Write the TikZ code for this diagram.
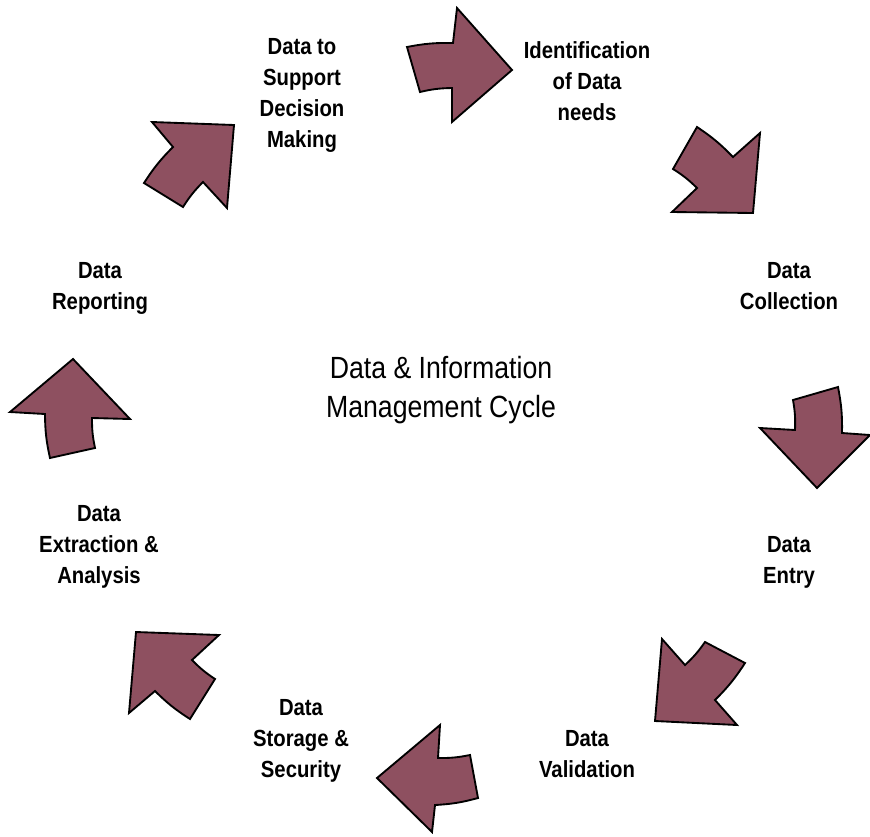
\documentclass[tikz,border=0pt]{standalone}
\usepackage{fontspec}
\setmainfont{Liberation Sans}[FakeStretch=0.87]
\definecolor{arrowfill}{RGB}{142,80,96}
\tikzset{
  cyclearrow/.style={draw=black, line width=1.4pt, fill=arrowfill, line join=miter},
  steplabel/.style={align=center, inner sep=0pt, font=\fontsize{17.5}{23.25}\selectfont\bfseries},
  titlelabel/.style={align=center, inner sep=0pt, font=\fontsize{23}{29.25}\selectfont}
}
\begin{document}
\begin{tikzpicture}[x=0.75pt, y=-0.75pt]
\useasboundingbox (0,0) rectangle (870,836);

% block arrows around the cycle (outer edge, head, inner edge)
\draw[cyclearrow] (407,47) to[bend left=6] (453,43) -- (457,8) -- (512,70) -- (452,122) -- (452,88) to[bend right=6] (420,92) -- cycle;
\draw[cyclearrow] (697,127) to[bend left=6] (733,157) -- (760,133) -- (753,213) -- (672,212) -- (697,188) to[bend right=6] (673,169) -- cycle;
\draw[cyclearrow] (838,387) to[bend left=6] (842,433) -- (870,435) -- (817,488) -- (760,428) -- (795,430) to[bend right=6] (793,400) -- cycle;
\draw[cyclearrow] (745,663) to[bend left=6] (715,700) -- (737,725) -- (655,721) -- (662,639) -- (685,665) to[bend right=6] (705,642) -- cycle;
\draw[cyclearrow] (478,798) to[bend left=6] (435,805) -- (432,832) -- (377,778) -- (440,725) -- (438,758) to[bend right=6] (470,755) -- cycle;
\draw[cyclearrow] (190,719) to[bend left=6] (155,691) -- (129,713) -- (136,632) -- (219,635) -- (192,660) to[bend right=6] (215,679) -- cycle;
\draw[cyclearrow] (50,458) to[bend left=6] (45,414) -- (10,412) -- (73,359) -- (130,419) -- (92,418) to[bend right=6] (95,448) -- cycle;
\draw[cyclearrow] (144,183) to[bend left=6] (173,147) -- (152,122) -- (234,125) -- (227,208) -- (203,182) to[bend right=6] (183,207) -- cycle;

% step labels
\node[steplabel] (support)    at (302,95)  {Data to\\Support\\Decision\\Making};
\node[steplabel] (needs)      at (587,81)  {Identification\\of Data\\needs};
\node[steplabel] (collection) at (789,286) {Data\\Collection};
\node[steplabel] (entry)      at (789,562) {Data\\Entry};
\node[steplabel] (validation) at (587,754) {Data\\Validation};
\node[steplabel] (storage)    at (301,741) {Data\\Storage \&\\Security};
\node[steplabel] (extraction) at (99,547)  {Data\\Extraction \&\\Analysis};
\node[steplabel] (reporting)  at (100,288) {Data\\Reporting};

% centre title
\node[titlelabel] (title) at (441,390) {Data \& Information\\Management Cycle};
\end{tikzpicture}
\end{document}
